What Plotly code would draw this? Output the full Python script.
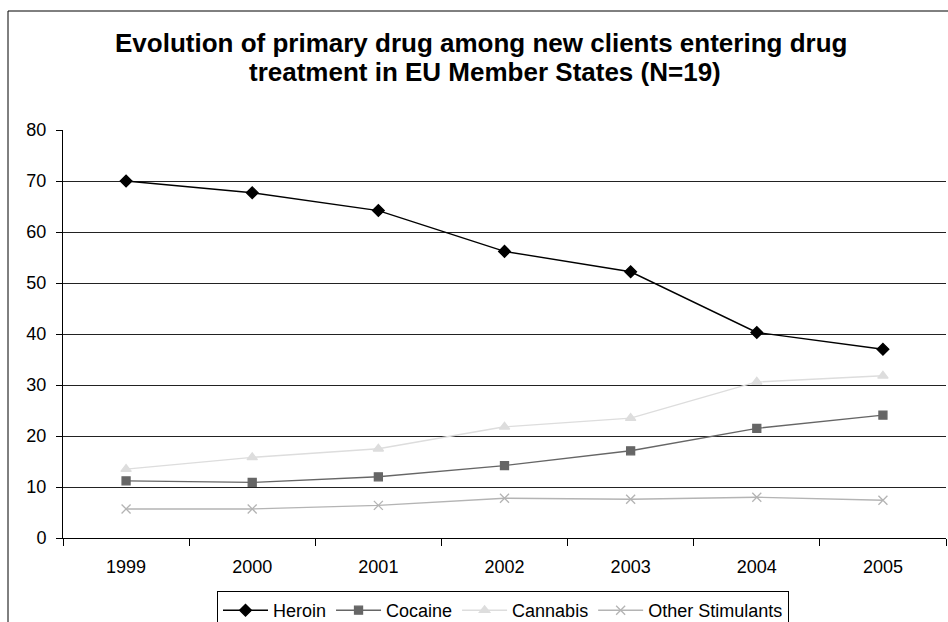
import plotly.graph_objects as go

years = ["1999", "2000", "2001", "2002", "2003", "2004", "2005"]
heroin = [70.0, 67.7, 64.2, 56.2, 52.2, 40.3, 37.0]
cocaine = [11.2, 10.9, 12.0, 14.2, 17.1, 21.5, 24.1]
cannabis = [13.5, 15.8, 17.5, 21.8, 23.5, 30.6, 31.8]
other_stim = [5.7, 5.7, 6.4, 7.8, 7.6, 8.0, 7.4]
y_ticks = [0, 10, 20, 30, 40, 50, 60, 70, 80]

FONT = "Arial, 'Liberation Sans', sans-serif"

fig = go.Figure()
series = [
    ("Heroin", heroin, "#000000", "diamond", 9),
    ("Cocaine", cocaine, "#666666", "square", 8),
    ("Cannabis", cannabis, "#dddddd", "triangle-up", 9),
    ("Other Stimulants", other_stim, "#b4b4b4", "x-thin-open", 9),
]
for name, vals, col, sym, sz in series:
    fig.add_trace(go.Scatter(
        x=years, y=vals, name=name, mode="lines+markers",
        line=dict(color=col, width=1.4),
        marker=dict(symbol=sym, size=sz, color=col, line=dict(color=col, width=1.3)),
    ))

W, H = 948, 622
L, R, T, B = 63, 2, 130, 84
pw, ph = W - L - R, H - T - B

def px(xp):
    return (xp - L) / pw

def py(yp):
    return (H - B - yp) / ph

fig.update_layout(
    width=W, height=H,
    margin=dict(l=L, r=R, t=T, b=B, autoexpand=False),
    paper_bgcolor="white", plot_bgcolor="white",
    font=dict(family=FONT, size=18, color="#000"),
    showlegend=True,
    legend=dict(
        orientation="h", xref="container", yref="container",
        x=503 / W, xanchor="center", y=(H - 591) / H, yanchor="top",
        bordercolor="#000", borderwidth=1, font=dict(size=18),
        itemwidth=45, tracegroupgap=0,
    ),
    xaxis=dict(
        type="category", range=[-0.5, 6.5], tickson="boundaries",
        ticks="outside", ticklen=7, tickcolor="#000",
        showgrid=False, showline=True, linecolor="#000", linewidth=1,
        ticklabelstandoff=12, tickfont=dict(size=18), fixedrange=True,
    ),
    yaxis=dict(
        range=[0, 80], tickvals=y_ticks, ticks="outside", ticklen=6, tickcolor="#000",
        showgrid=True, gridcolor="#222", gridwidth=1, zeroline=False,
        showline=True, linecolor="#000", linewidth=1,
        ticklabelstandoff=6, tickfont=dict(size=18),
    ),
    shapes=[dict(
        type="rect", xref="paper", yref="paper",
        x0=px(8), x1=px(W + 20), y0=py(H + 20), y1=py(11),
        line=dict(color="#000", width=1), fillcolor="rgba(0,0,0,0)", layer="below",
    )],
    annotations=[
        dict(text="<b>Evolution of primary drug among new clients entering drug</b>",
             xref="paper", yref="paper", x=px(481), y=py(43), xanchor="center", yanchor="middle",
             showarrow=False, font=dict(size=26, family=FONT)),
        dict(text="<b>treatment in EU Member States (N=19)</b>",
             xref="paper", yref="paper", x=px(485), y=py(72), xanchor="center", yanchor="middle",
             showarrow=False, font=dict(size=26, family=FONT)),
    ],
)

fig.write_html("out.html")
